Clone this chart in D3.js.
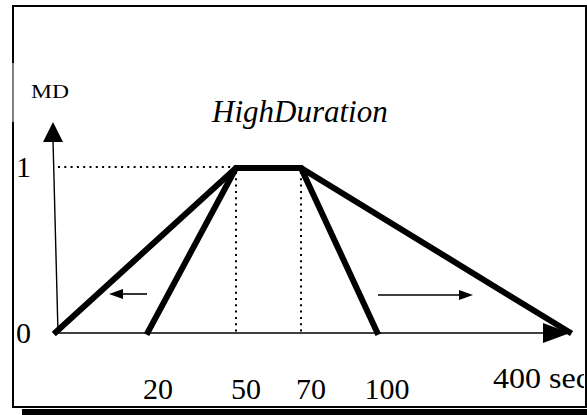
<!DOCTYPE html>
<html>
<head>
<meta charset="utf-8">
<script src="https://cdn.jsdelivr.net/npm/d3@7"></script>
<style>
  body { margin: 0; background: #fff; overflow: hidden; }
  svg { display: block; }
</style>
</head>
<body>
<svg id="chart"></svg>
<script>
// membership function for HighDuration (seconds -> degree)
var outerX = [0, 50, 70, 400];
var outerY = [0, 1, 1, 0];
var innerX = [20, 50, 70, 100];
var innerY = [0, 1, 1, 0];
var tickVals = [20, 50, 70, 100];
var yTicks = [0, 1];
var title = "HighDuration";
var yLabel = "MD";
var xEndLabel = "400 sec";

var serif = "'Liberation Serif', 'Times New Roman', Times, 'DejaVu Serif', serif";
var width = 587, height = 415;
var svg = d3.select("#chart").attr("width", width).attr("height", height);

// x axis is drawn non-linear in the original sketch
var x = d3.scaleLinear()
    .domain([0, 20, 50, 70, 100, 400])
    .range([56, 148, 236, 301, 377, 569]);
var y = d3.scaleLinear().domain([0, 1]).range([332, 168]);

var defs = svg.append("defs");
defs.append("clipPath").attr("id", "box")
  .append("rect").attr("x", 13).attr("y", 6).attr("width", 571).attr("height", 401);

// frame + shadow
svg.append("rect").attr("x", 22).attr("y", 409).attr("width", width - 22).attr("height", 6).attr("fill", "#000");
svg.append("rect").attr("x", 13).attr("y", 6).attr("width", 573).attr("height", 401)
   .attr("fill", "none").attr("stroke", "#000").attr("stroke-width", 2);
// thin part of left border
svg.append("rect").attr("x", 11.5).attr("y", 63).attr("width", 3).attr("height", 59).attr("fill", "#fff");
svg.append("line").attr("x1", 13).attr("x2", 13).attr("y1", 63).attr("y2", 122)
   .attr("stroke", "#000").attr("stroke-width", 1);

// dotted guides
var dot = svg.append("g").attr("stroke", "#000").attr("stroke-width", 2).attr("stroke-dasharray", "2,4.3");
dot.append("line").attr("x1", 58).attr("x2", x(50)).attr("y1", y(1) - 1).attr("y2", y(1) - 1);
[50, 70].forEach(function(v) {
  dot.append("line").attr("x1", x(v)).attr("x2", x(v)).attr("y1", y(1) + 4).attr("y2", y(0));
});

// axes
var ax = svg.append("g").attr("stroke", "#000").attr("stroke-width", 1.4);
ax.append("line").attr("x1", x(0) + 2).attr("y1", y(0) + 1).attr("x2", 53).attr("y2", 140);
ax.append("line").attr("x1", x(0)).attr("y1", y(0) + 1).attr("x2", 545).attr("y2", y(0) + 1);
svg.append("path").attr("d", "M53,122 L43,142 L63,142 Z").attr("fill", "#000");
svg.append("path").attr("d", "M570," + (y(0) + 1) + " L543," + (y(0) - 9) + " L543," + (y(0) + 11) + " Z").attr("fill", "#000");

// membership lines
var line = d3.line().x(d => x(d[0])).y(d => y(d[1]));
[[outerX, outerY], [innerX, innerY]].forEach(function(s) {
  svg.append("path")
     .attr("d", line(s[0].map((v, i) => [v, s[1][i]])))
     .attr("fill", "none").attr("stroke", "#000").attr("stroke-width", 6)
     .attr("stroke-linejoin", "miter").attr("stroke-linecap", "square");
});

// small direction arrows
function arrow(x1, x2, yy) {
  var dir = x2 > x1 ? -1 : 1;
  svg.append("line").attr("x1", x1).attr("x2", x2 + dir * 12).attr("y1", yy).attr("y2", yy)
     .attr("stroke", "#000").attr("stroke-width", 1.6);
  svg.append("path").attr("d", "M" + x2 + "," + yy + " L" + (x2 + dir * 14) + "," + (yy - 5) +
     " L" + (x2 + dir * 14) + "," + (yy + 5) + " Z").attr("fill", "#000");
}
arrow(x(20) - 1, 109, 294);
arrow(x(100) + 1, 473, 295);

// texts
var txt = svg.append("g").attr("font-family", serif).attr("fill", "#000");
txt.append("text").attr("x", 212).attr("y", 122).attr("font-size", 31).attr("font-style", "italic").text(title);
txt.append("text").attr("x", 31).attr("y", 98).attr("font-size", 19)
   .attr("textLength", 38).attr("lengthAdjust", "spacingAndGlyphs").text(yLabel);
txt.selectAll(".ytick").data(yTicks).enter().append("text")
   .attr("x", 16).attr("y", d => y(d) + (d === 0 ? 11 : 9))
   .attr("font-size", 30).text(d => d);
txt.selectAll(".xtick").data(tickVals).enter().append("text")
   .attr("x", d => x(d) + 10).attr("y", 399)
   .attr("text-anchor", "middle").attr("font-size", 30).text(d => d);
txt.append("g").attr("clip-path", "url(#box)")
   .append("text")
   .attr("x", x(400) - 76).attr("y", 388).attr("font-size", 30)
   .attr("textLength", 97).attr("lengthAdjust", "spacingAndGlyphs").text(xEndLabel);
</script>
</body>
</html>
